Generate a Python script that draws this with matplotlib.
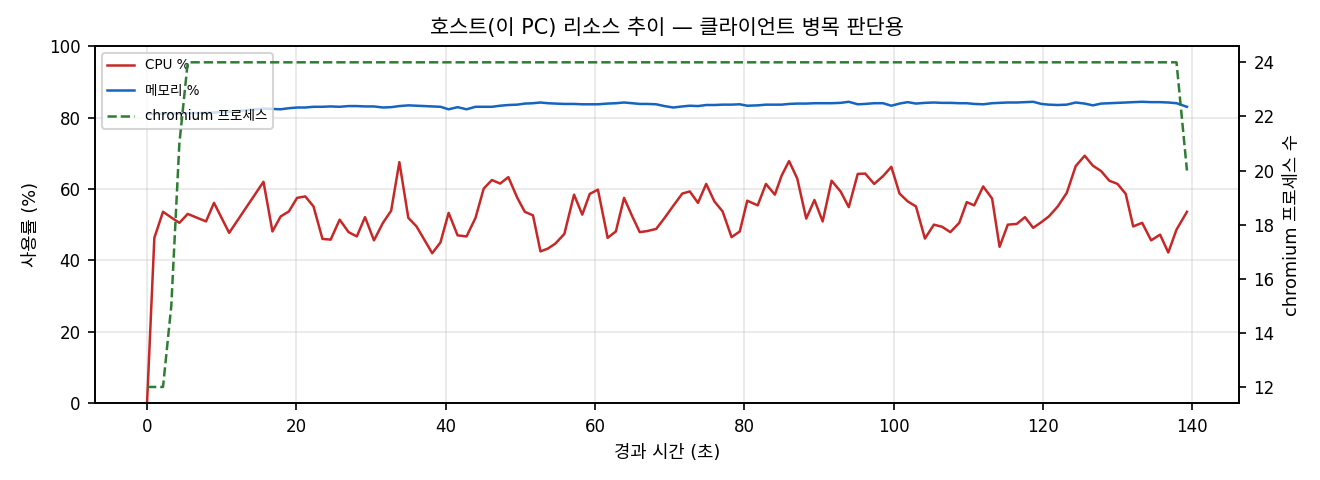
import matplotlib
matplotlib.use('Agg')
import matplotlib.pyplot as plt

plt.rcParams['font.family'] = ['DejaVu Sans', 'Noto Sans CJK KR']
plt.rcParams['axes.unicode_minus'] = False

# elapsed seconds for each sample
elapsed = [
    0.0, 0.98, 2.14, 3.25, 4.33, 5.45, 7.9, 8.97, 11.0, 15.6,
    16.8, 17.9, 19.0, 20.1, 21.2, 22.3, 23.5, 24.6, 25.8, 27.0,
    28.1, 29.2, 30.4, 31.6, 32.7, 33.8, 35.0, 36.1, 38.2, 39.3,
    40.4, 41.6, 42.8, 44.0, 45.1, 46.2, 47.3, 48.4, 49.6, 50.6,
    51.7, 52.7, 53.7, 54.7, 55.9, 57.2, 58.3, 59.3, 60.4, 61.7,
    62.8, 63.9, 65.0, 66.0, 67.0, 68.2, 69.3, 70.5, 71.7, 72.7,
    73.8, 74.9, 76.0, 77.1, 78.3, 79.4, 80.4, 81.8, 82.9, 84.1,
    85.0, 86.0, 87.1, 88.3, 89.4, 90.5, 91.7, 92.9, 94.0, 95.2,
    96.2, 97.4, 98.6, 99.7, 100.8, 101.9, 103.0, 104.2, 105.4, 106.5,
    107.6, 108.8, 109.8, 110.8, 112.0, 113.2, 114.2, 115.3, 116.5, 117.6,
    118.7, 119.8, 120.8, 122.0, 123.2, 124.4, 125.6, 126.7, 127.8, 128.9,
    130.0, 131.1, 132.1, 133.3, 134.5, 135.7, 136.8, 137.9, 139.3,
]

cpu_pct = [
    0.0, 46.3, 53.6, 52.0, 50.5, 53.0, 50.9, 56.1, 47.7, 62.0,
    48.1, 52.3, 53.7, 57.5, 57.9, 55.1, 46.0, 45.8, 51.4, 47.9,
    46.7, 52.1, 45.6, 50.5, 53.9, 67.5, 51.9, 49.5, 42.0, 45.0,
    53.3, 47.0, 46.7, 51.9, 60.1, 62.5, 61.5, 63.3, 57.5, 53.6,
    52.6, 42.5, 43.3, 44.7, 47.4, 58.4, 52.8, 58.6, 59.8, 46.3,
    48.1, 57.5, 52.3, 47.9, 48.2, 48.8, 51.8, 55.3, 58.7, 59.3,
    56.1, 61.4, 56.5, 53.7, 46.5, 48.1, 56.7, 55.4, 61.4, 58.4,
    63.7, 67.8, 62.9, 51.7, 56.9, 50.9, 62.3, 59.3, 54.9, 64.2,
    64.3, 61.4, 63.6, 66.2, 58.7, 56.5, 55.1, 46.1, 50.0, 49.4,
    47.9, 50.5, 56.3, 55.4, 60.7, 57.3, 43.8, 50.0, 50.2, 52.1,
    49.1, 50.7, 52.3, 55.1, 58.9, 66.4, 69.3, 66.5, 65.0, 62.3,
    61.4, 58.6, 49.5, 50.5, 45.6, 47.2, 42.2, 48.6, 53.6,
]

mem_pct = [
    81.0, 81.0, 81.1, 81.1, 81.1, 81.2, 81.3, 81.4, 81.6, 82.5,
    82.4, 82.3, 82.6, 82.8, 82.8, 83.0, 83.0, 83.1, 83.0, 83.2,
    83.2, 83.1, 83.1, 82.8, 82.9, 83.2, 83.4, 83.3, 83.1, 83.0,
    82.3, 82.9, 82.3, 83.0, 83.0, 83.0, 83.3, 83.5, 83.6, 83.9,
    84.0, 84.2, 84.0, 83.9, 83.8, 83.8, 83.7, 83.7, 83.7, 83.9,
    84.0, 84.2, 84.0, 83.8, 83.8, 83.7, 83.2, 82.8, 83.1, 83.3,
    83.2, 83.5, 83.5, 83.6, 83.6, 83.7, 83.3, 83.4, 83.6, 83.6,
    83.6, 83.8, 83.9, 83.9, 84.0, 84.0, 84.0, 84.1, 84.4, 83.7,
    83.8, 84.0, 84.0, 83.3, 83.9, 84.3, 83.9, 84.1, 84.2, 84.1,
    84.1, 84.0, 84.0, 83.8, 83.7, 84.0, 84.1, 84.2, 84.2, 84.3,
    84.4, 83.8, 83.6, 83.5, 83.6, 84.2, 83.9, 83.4, 83.9, 84.0,
    84.1, 84.2, 84.3, 84.4, 84.3, 84.3, 84.2, 84.0, 83.0,
]

chromium_procs = [12, 12, 12, 15, 21] + [24] * 113 + [20]

fig, ax = plt.subplots(figsize=(8.8, 3.2), dpi=150)
ax2 = ax.twinx()

l1, = ax.plot(elapsed, cpu_pct, color='#c62828', linewidth=1.2, label='CPU %')
l2, = ax.plot(elapsed, mem_pct, color='#1565c0', linewidth=1.2, label='메모리 %')
l3, = ax2.plot(elapsed, chromium_procs, color='#2e7d32', linewidth=1.2,
               linestyle='--', label='chromium 프로세스')

ax.set_ylim(0, 100)
ax.set_xlabel('경과 시간 (초)', fontsize=8.5)
ax.set_ylabel('사용률 (%)', fontsize=8.5)
ax2.set_ylabel('chromium 프로세스 수', fontsize=8.5)
ax.set_title('호스트(이 PC) 리소스 추이 — 클라이언트 병목 판단용', fontsize=10)
ax.tick_params(labelsize=8)
ax2.tick_params(labelsize=8)
ax.grid(True, alpha=0.3)

ax.legend(handles=[l1, l2, l3], loc='upper left', fontsize=6.5, labelspacing=0.85)

fig.subplots_adjust(left=0.072, right=0.9386, top=0.904, bottom=0.160)
fig.savefig('out.png', dpi=150)
plt.close(fig)
